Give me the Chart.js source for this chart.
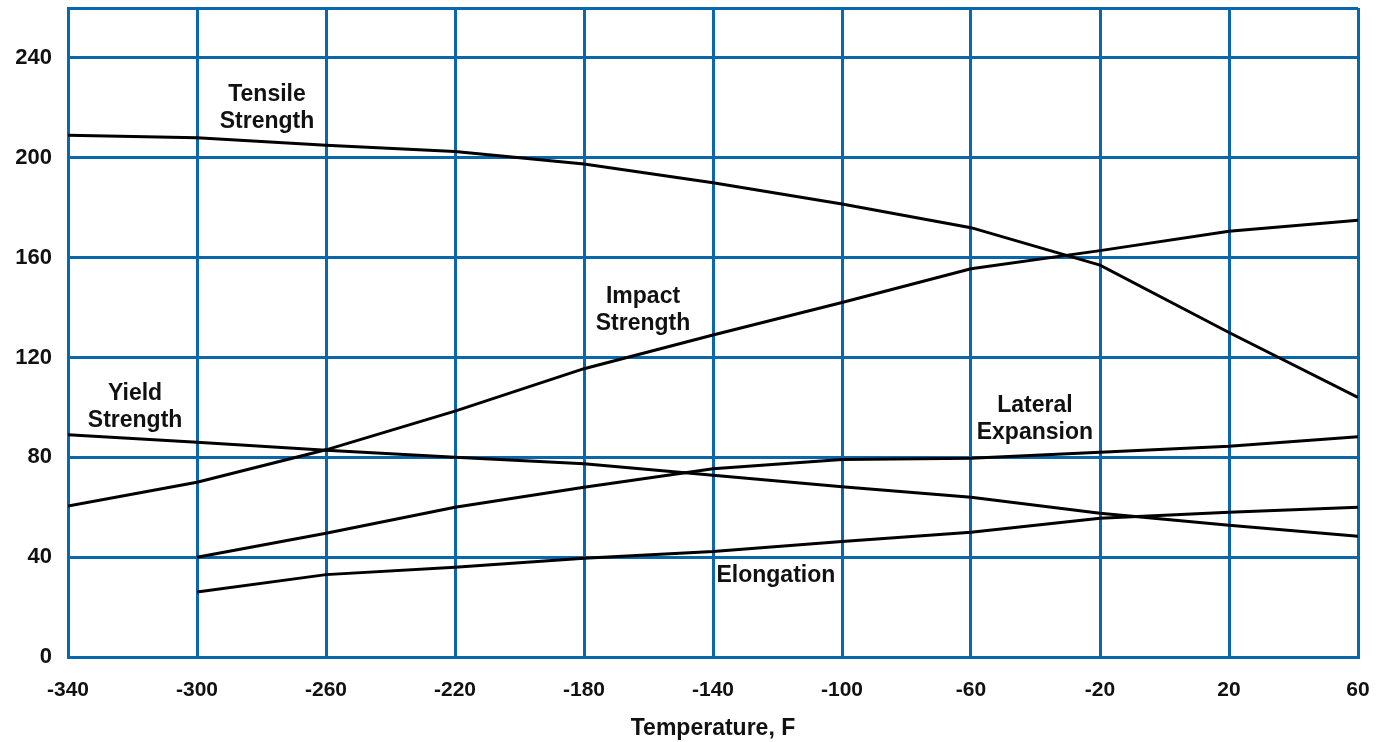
<!DOCTYPE html>
<html>
<head>
<meta charset="utf-8">
<script src="https://cdn.jsdelivr.net/npm/chart.js@4.4.1/dist/chart.umd.min.js"></script>
<style>
  html, body { margin: 0; padding: 0; background: #fff; }
  #wrap { width: 1387px; height: 742px; }
</style>
</head>
<body>
<div id="wrap"><canvas id="chart" width="1387" height="742"></canvas></div>
<script>
'use strict';

// temperatures (F) where the curves were read
const tempsFull = [-340, -300, -260, -220, -180, -140, -100, -60, -20, 20, 60];
const tempsFrom300 = [-300, -260, -220, -180, -140, -100, -60, -20, 20, 60];

// series values
const tensileStrength = [209, 208, 205, 202.5, 197.5, 190, 181.5, 172, 157, 130, 104];
const impactStrength  = [60.5, 70, 83, 98.5, 115.5, 129, 142, 155.5, 162.8, 170.6, 175];
const yieldStrength   = [89, 86, 82.8, 80, 77.4, 72.8, 68.2, 64, 57.6, 52.8, 48.4];
const lateralExpansion = [40, 49.6, 60, 68, 75.4, 79.1, 79.6, 82, 84.4, 88.2];
const elongation       = [26, 33, 36, 39.6, 42.3, 46.3, 50, 55.6, 58, 60];

// curve labels, placed in data units (centre of the text block)
const curveLabels = [
    { lines: ['Tensile', 'Strength'],  x: -278.3, y: 220 },
    { lines: ['Yield', 'Strength'],    x: -319.2, y: 100.2 },
    { lines: ['Impact', 'Strength'],   x: -161.7, y: 139 },
    { lines: ['Lateral', 'Expansion'], x: -40.2,  y: 95.2 },
    { lines: ['Elongation'],           x: -120.5, y: 32.4 }
];

const GRID = '#0a67ab';
const FONT = '"Liberation Sans", Arial, sans-serif';

function toPoints(xs, ys) {
    return ys.map((v, i) => ({ x: xs[i], y: v }));
}

function series(label, xs, ys) {
    return {
        label: label,
        data: toPoints(xs, ys),
        borderColor: '#000',
        borderWidth: 3,
        pointRadius: 0,
        tension: 0,
        fill: false
    };
}

const curveLabelPlugin = {
    id: 'curveLabels',
    afterDatasetsDraw(chart) {
        const ctx = chart.ctx;
        const xs = chart.scales.x, ys = chart.scales.y;
        ctx.save();
        ctx.font = 'bold 23px ' + FONT;
        ctx.fillStyle = '#111';
        ctx.textAlign = 'center';
        ctx.textBaseline = 'middle';
        const lh = 27;
        curveLabels.forEach(l => {
            const cx = xs.getPixelForValue(l.x);
            const cy = ys.getPixelForValue(l.y);
            const top = cy - (l.lines.length - 1) * lh / 2;
            l.lines.forEach((t, i) => ctx.fillText(t, cx, top + i * lh));
        });
        ctx.restore();
    }
};

new Chart(document.getElementById('chart'), {
    type: 'line',
    data: {
        datasets: [
            series('Tensile Strength', tempsFull, tensileStrength),
            series('Impact Strength', tempsFull, impactStrength),
            series('Yield Strength', tempsFull, yieldStrength),
            series('Lateral Expansion', tempsFrom300, lateralExpansion),
            series('Elongation', tempsFrom300, elongation)
        ]
    },
    options: {
        responsive: false,
        animation: false,
        layout: { padding: { left: 0, top: 8, right: 29, bottom: 0 } },
        plugins: {
            legend: { display: false },
            tooltip: { enabled: false }
        },
        scales: {
            x: {
                type: 'linear',
                min: -340,
                max: 60,
                afterFit(scale) {
                    scale.height = 85;
                    scale.paddingLeft = 0;
                    scale.paddingRight = 0;
                },
                ticks: {
                    stepSize: 40,
                    padding: 21,
                    color: '#111',
                    font: { family: FONT, size: 21, weight: 'bold' }
                },
                grid: { color: GRID, lineWidth: 3, drawTicks: false },
                border: { color: GRID, width: 3 },
                title: {
                    display: true,
                    text: 'Temperature, F',
                    color: '#111',
                    padding: { top: 10, bottom: 0 },
                    font: { family: FONT, size: 23, weight: 'bold' }
                }
            },
            y: {
                min: 0,
                max: 260,
                afterFit(scale) {
                    scale.width = 68;
                    scale.paddingTop = 0;
                    scale.paddingBottom = 0;
                },
                ticks: {
                    stepSize: 40,
                    padding: 16,
                    color: '#111',
                    font: { family: FONT, size: 22, weight: 'bold' },
                    callback: v => (v === 260 ? '' : v)
                },
                grid: { color: GRID, lineWidth: 3, drawTicks: false },
                border: { color: GRID, width: 3 }
            }
        }
    },
    plugins: [curveLabelPlugin]
});
</script>
</body>
</html>
